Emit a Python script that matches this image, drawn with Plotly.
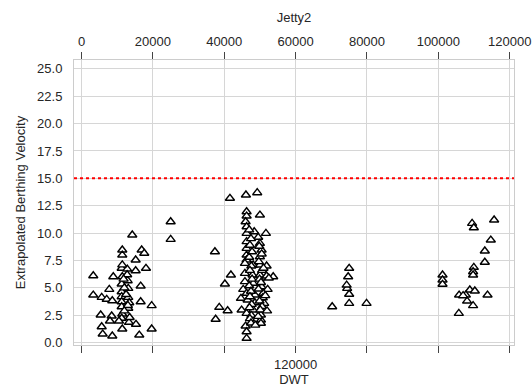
import plotly.graph_objects as go

# DWT values (x) and Extrapolated Berthing Velocity (y)
dwt_small = [24990, 24990, 14230, 11430, 11430, 16860, 17590, 15180, 11260, 12830,
             15180, 18070, 3300, 8910, 11430, 12940, 11260, 16580, 13110, 7790,
             11260, 3300, 5660, 7060, 8630, 11260, 13110, 11260, 13390, 16580,
             19660, 11260, 13110, 5380, 8460, 11430, 11260, 7980, 10500, 13300,
             15270, 5660, 11430, 19660, 5940, 8630, 16190,
             11430, 12000, 12500, 13000, 12000, 13500, 12800, 11800]
vel_small = [11.04, 9.43, 9.83, 8.46, 8.00, 8.46, 8.16, 7.55, 6.79, 6.72,
             6.57, 6.79, 6.11, 6.02, 6.02, 5.66, 5.36, 5.17, 4.96, 4.87,
             4.65, 4.35, 4.14, 3.96, 3.83, 4.20, 4.14, 3.74, 3.65, 3.74,
             3.38, 3.28, 3.14, 2.53, 2.44, 2.62, 2.23, 1.98, 1.98, 1.86,
             1.68, 1.46, 1.25, 1.25, 0.79, 0.61, 0.70,
             7.10, 5.00, 4.40, 3.40, 2.90, 2.30, 6.20, 5.80]

dwt_mid = [41600, 46080, 49240, 37390, 46270, 46270, 50000, 45990, 46270, 48400,
           51680, 46270, 49520, 46270, 50000, 46270, 50470, 46270, 50000, 46270,
           41870, 40190, 45800, 48120, 50000, 51870, 45800, 47950, 50000, 51870,
           53720, 45800, 48120, 50470, 52160, 45320, 46270, 48600, 50920, 44680,
           46550, 48600, 51200, 38600, 40950, 37590, 44870, 46270, 48120, 50280,
           50280, 50280, 45990, 46270, 46270,
           47000, 47500, 47200, 47800, 47000, 47600, 47200, 47800, 47000, 47500,
           47200, 47700, 47100, 47600, 47200, 47500, 49800, 50500, 49700, 50600,
           49900, 50300, 49600, 50800, 49900, 50600, 50100, 49500, 51000, 52500,
           51500, 52000, 48700]
vel_mid = [13.18, 13.48, 13.69, 8.30, 11.95, 11.56, 11.65, 11.04, 10.58, 10.13,
           9.98, 9.98, 9.62, 9.22, 9.07, 8.61, 8.46, 8.00, 7.85, 7.55,
           6.18, 5.36, 7.24, 7.09, 7.09, 7.00, 6.33, 6.18, 6.18, 6.09,
           6.02, 5.57, 5.42, 5.11, 4.87, 4.87, 4.51, 4.35, 4.51, 4.05,
           3.90, 3.65, 3.59, 3.23, 2.92, 2.14, 2.98, 2.68, 2.98, 2.53,
           2.07, 1.77, 1.52, 1.00, 0.40,
           10.3, 9.5, 8.9, 8.3, 7.8, 7.0, 6.6, 5.8, 5.2, 4.7,
           4.2, 3.5, 3.2, 2.5, 2.2, 1.8, 8.8, 8.1, 7.4, 6.6,
           5.8, 5.5, 4.9, 4.1, 3.8, 3.3, 3.0, 2.4, 6.8, 5.9,
           4.3, 2.9, 1.6]

dwt_75k = [75010, 74730, 74450, 75010, 75010, 70250, 79880, 74300]
vel_75k = [6.79, 6.02, 4.96, 4.42, 3.59, 3.28, 3.59, 5.26]

dwt_large = [109460, 109940, 115630, 114700, 113020, 113020, 109940, 109740, 109740, 101170,
             101170, 101170, 108820, 110220, 105820, 107700, 113780, 108060, 109740, 105740,
             106940]
vel_large = [10.89, 10.49, 11.20, 9.37, 8.37, 7.34, 6.88, 6.48, 6.18, 6.18,
             5.72, 5.33, 4.81, 4.72, 4.35, 4.35, 4.35, 3.80, 3.38, 2.68,
             4.29]

limit_velocity = 15.0
x_ticks = [0, 20000, 40000, 60000, 80000, 100000, 120000]
top_labels = ["0", "20000", "40000", "60000", "80000", "100000", "120000"]
bottom_labels = ["", "", "", "120000", "", "", ""]

x_all = dwt_small + dwt_mid + dwt_75k + dwt_large
y_all = vel_small + vel_mid + vel_75k + vel_large

FONT = "Liberation Sans, Arial, sans-serif"
TXT = "#262626"
GRID = "#d6d6d6"
X_RANGE = [-2100, 121200]

fig = go.Figure()
fig.add_trace(go.Scatter(
    x=x_all, y=y_all, mode="markers",
    marker=dict(symbol="triangle-up", size=8, color="white",
                line=dict(color="black", width=1.4)),
    showlegend=False, hoverinfo="x+y", xaxis="x", yaxis="y"))
# carrier trace so the top axis is drawn
fig.add_trace(go.Scatter(x=[x_ticks[0], x_ticks[-1]], y=[None, None], mode="markers",
                         showlegend=False, hoverinfo="skip", xaxis="x2", yaxis="y"))

fig.add_shape(type="line", xref="paper", x0=0, x1=1, yref="y",
              y0=limit_velocity, y1=limit_velocity,
              line=dict(color="red", width=2, dash="dot"), layer="above")

fig.update_layout(
    width=532, height=388,
    margin=dict(l=74, r=18, t=60, b=43),
    paper_bgcolor="white", plot_bgcolor="white",
    font=dict(family=FONT, size=13, color=TXT),
    title=dict(text="Jetty2", x=0.5, xref="paper", xanchor="center",
               y=1 - 17 / 388, yanchor="middle", yref="container",
               font=dict(family=FONT, size=13, color=TXT)),
    xaxis=dict(range=X_RANGE, tickmode="array", tickvals=x_ticks, ticktext=bottom_labels,
               ticks="outside", ticklen=7, tickwidth=1, tickcolor="#444444",
               showgrid=True, gridcolor=GRID, gridwidth=1, zeroline=False,
               showline=True, linecolor="#cccccc", linewidth=1, mirror=True,
               automargin=False,
               title=dict(text="DWT", standoff=2, font=dict(size=13)),
               tickfont=dict(size=13)),
    xaxis2=dict(range=X_RANGE, overlaying="x", side="top", anchor="y",
                tickmode="array", tickvals=x_ticks, ticktext=top_labels,
                ticks="outside", ticklen=7, tickwidth=1, tickcolor="#444444",
                showgrid=False, zeroline=False, showline=False, automargin=False,
                ticklabelstandoff=1,
                tickfont=dict(size=13)),
    yaxis=dict(range=[-0.21, 25.8], tickmode="linear", tick0=0, dtick=2.5,
               tickformat=".1f", ticks="", showgrid=True, gridcolor=GRID, gridwidth=1,
               zeroline=False, showline=True, linecolor="#cccccc", linewidth=1, mirror=True,
               ticklabelstandoff=8, automargin=False,
               title=dict(text="Extrapolated Berthing Velocity", standoff=8, font=dict(size=13)),
               tickfont=dict(size=13)),
)

fig.write_html("out.html")
